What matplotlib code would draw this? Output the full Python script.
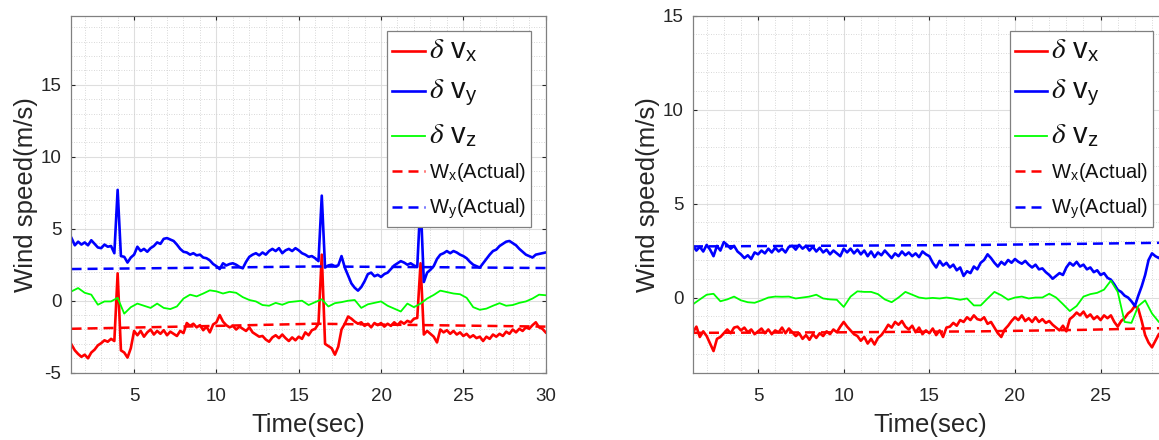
import numpy as np
import matplotlib
matplotlib.use('Agg')
import matplotlib.pyplot as plt
from matplotlib.ticker import MultipleLocator

plt.rcParams['font.family'] = ['Liberation Sans', 'DejaVu Sans']
plt.rcParams['mathtext.fontset'] = 'stix'
plt.rcParams['axes.unicode_minus'] = False

t0 = 1.2
dt = 0.2      # red / blue traces
dt_z = 0.4    # green trace

# ---- left run ----
vx_left = [-3.05, -3.45, -3.7, -3.9, -3.75,
           -4.0, -3.6, -3.4, -3.1, -2.95,
           -2.75, -2.85, -2.65, -2.8, 1.9,
           -3.45, -3.6, -3.95, -3.3, -2.1,
           -2.4, -2.1, -2.5, -2.2, -2.0,
           -2.35, -2.1, -2.3, -2.05, -2.4,
           -2.15, -2.3, -2.45, -2.1, -2.25,
           -1.55, -1.75, -1.6, -1.85, -1.7,
           -2.05, -1.8, -2.2, -1.65, -1.5,
           -1.0, -1.45, -1.7, -1.85, -1.75,
           -2.0, -1.8, -1.95, -2.1, -1.85,
           -2.2, -2.35, -2.5, -2.45, -2.7,
           -2.85, -2.55, -2.4, -2.6, -2.35,
           -2.6, -2.8, -2.55, -2.75, -2.5,
           -2.65, -2.2, -2.4, -2.05, -1.95,
           -1.6, 3.2, -3.0, -3.15, -3.3,
           -3.75, -3.2, -2.0, -1.6, -1.1,
           -1.25, -1.45, -1.6, -1.5, -1.75,
           -1.6, -1.85, -1.55, -1.7, -1.55,
           -1.8, -1.6, -1.75, -1.5, -1.7,
           -1.45, -1.6, -1.4, -1.5, -1.25,
           -1.2, 2.6, -2.35, -2.1, -2.3,
           -2.5, -2.9, -2.0, -2.2, -2.05,
           -2.3, -2.1, -2.35, -2.2, -2.45,
           -2.3, -2.55, -2.4, -2.6, -2.5,
           -2.8, -2.5, -2.65, -2.35, -2.5,
           -2.3, -2.45, -2.15, -2.3, -2.0,
           -2.2, -1.95, -2.1, -1.85, -1.95,
           -1.7, -1.5, -1.85, -1.95, -2.2]
vy_left = [4.35, 3.85, 4.1, 3.9, 4.05,
           3.85, 4.2, 3.95, 3.7, 3.65,
           3.9, 3.75, 3.8, 3.3, 7.7,
           3.1, 3.05, 2.65, 3.0, 3.2,
           3.75, 3.45, 3.6, 3.4, 3.65,
           3.8, 4.05, 3.95, 4.3, 4.35,
           4.25, 4.15, 3.9, 3.6, 3.4,
           3.35, 3.2, 3.3, 3.15, 3.2,
           3.0, 2.95, 2.8, 2.55, 2.4,
           2.2, 2.6, 2.45, 2.55, 2.6,
           2.5, 2.35, 2.25, 2.7, 3.05,
           3.2, 3.3, 3.15, 3.35, 3.2,
           3.45, 3.6, 3.45, 3.65, 3.3,
           3.5, 3.6, 3.45, 3.65, 3.5,
           3.3, 3.2, 3.05, 3.1, 2.95,
           2.75, 7.3, 2.3, 2.45, 2.5,
           2.4, 2.45, 3.1, 2.3, 1.75,
           1.2, 0.9, 0.7, 0.95, 1.35,
           1.85, 1.95, 1.7, 1.8, 1.65,
           1.85, 1.95, 2.2, 2.45, 2.6,
           2.75, 2.65, 2.5, 2.6, 2.45,
           2.35, 7.0, 1.3, 1.95, 2.15,
           2.4, 2.9, 3.2, 3.3, 3.45,
           3.3, 3.45, 3.35, 3.2, 3.1,
           2.95, 2.7, 2.5, 2.4, 2.3,
           2.6, 2.9, 3.2, 3.45, 3.55,
           3.8, 3.95, 4.1, 4.15, 4.0,
           3.85, 3.6, 3.4, 3.2, 3.1,
           3.0, 3.2, 3.25, 3.3, 3.35]
vz_left = [0.65, 0.88, 0.55, 0.42, -0.28,
           -0.05, -0.05, 0.2, -0.9, -0.45,
           -0.2, -0.35, -0.5, -0.2, -0.5,
           -0.58, -0.4, 0.15, 0.42, 0.3,
           0.5, 0.72, 0.65, 0.5, 0.62,
           0.55, 0.25, 0.05, -0.05, -0.3,
           -0.35, -0.15, -0.28, -0.1, -0.05,
           0.0, -0.3, -0.1, 0.1, -0.4,
           -0.17, -0.1, 0.0, 0.05, -0.5,
           -0.25, -0.15, -0.05, -0.35, -0.55,
           -0.75, -0.2, -0.45, -0.2, 0.15,
           0.4, 0.7, 0.6, 0.5, 0.45,
           0.2, -0.45, -0.63, -0.55, -0.35,
           -0.17, -0.35, -0.3, -0.15, -0.05,
           0.15, 0.42, 0.38]
w_left_t = [1.2, 10, 16, 23, 30]
wx_left = [-1.95, -1.75, -1.6, -1.7, -1.8]
wy_left = [2.2, 2.3, 2.38, 2.33, 2.27]

# ---- right run ----
vx_right = [-1.85, -1.55, -2.1, -1.8, -2.05,
            -2.45, -2.85, -2.2, -2.1, -1.9,
            -1.7, -1.9, -1.6, -1.55, -1.75,
            -1.6, -1.85, -1.7, -1.95, -1.8,
            -1.65, -1.9, -1.7, -1.95, -1.75,
            -1.85, -1.6, -1.9, -1.65, -1.85,
            -2.05, -1.9, -2.2, -2.0, -2.25,
            -1.95, -2.15, -1.9, -2.05, -1.8,
            -1.95, -1.7, -1.85, -1.55, -1.3,
            -1.55, -1.75, -1.95, -2.05, -2.3,
            -2.1, -2.45, -2.2, -2.5, -2.15,
            -2.0, -1.75, -1.45, -1.6, -1.3,
            -1.45, -1.25, -1.55, -1.7, -1.5,
            -1.85, -1.6, -1.95, -1.75, -1.9,
            -1.65, -2.0, -1.75, -2.1, -1.6,
            -1.55, -1.35, -1.5, -1.2, -1.3,
            -1.05, -1.2, -0.95, -1.15, -1.2,
            -1.05, -1.4, -1.3, -1.6, -1.9,
            -2.1, -1.7, -1.5, -1.25, -1.05,
            -1.2, -0.95, -1.25, -1.1, -1.3,
            -1.05, -1.3, -1.15, -1.35, -1.25,
            -1.45, -1.6, -1.75, -1.5, -1.8,
            -1.15, -1.0, -0.8, -0.95, -0.75,
            -1.05, -0.9, -1.15, -1.0, -1.2,
            -0.95, -1.1, -0.95, -1.3, -1.55,
            -1.25, -1.1, -0.85, -0.7, -0.45,
            -0.6, -1.25, -2.0, -2.4, -2.65,
            -2.3, -1.95, -1.8, -1.9, -1.95]
vy_right = [2.75, 2.5, 2.7, 2.45, 2.8,
            2.55, 2.2, 2.75, 2.5, 2.95,
            2.8, 2.6, 2.75, 2.45, 2.3,
            2.1, 2.25, 2.05, 2.4, 2.3,
            2.5, 2.35, 2.6, 2.4, 2.65,
            2.45, 2.6, 2.4, 2.7, 2.75,
            2.55, 2.8, 2.6, 2.75, 2.5,
            2.7, 2.45, 2.65, 2.4, 2.55,
            2.3, 2.5, 2.35, 2.2, 2.6,
            2.4, 2.6, 2.35, 2.55, 2.3,
            2.5, 2.2, 2.45, 2.15, 2.4,
            2.25, 2.5, 2.3, 2.1, 2.35,
            2.2, 2.45, 2.25, 2.4, 2.2,
            2.35, 2.15, 2.45, 2.3, 2.2,
            1.85, 1.6, 1.95, 1.7, 1.85,
            1.6, 1.75, 1.45, 1.6, 1.15,
            1.4, 1.3, 1.65, 1.5, 1.85,
            2.0, 2.3, 2.1, 1.85, 1.65,
            1.9, 1.75, 2.0, 1.85, 2.05,
            1.9, 1.8, 1.95, 1.75, 1.6,
            1.75, 1.5, 1.55, 1.35, 1.2,
            1.0, 1.15, 1.3, 1.2, 1.6,
            1.85, 1.7, 1.9, 1.65, 1.75,
            1.5, 1.6, 1.35, 1.45, 1.2,
            1.3, 1.05, 0.95, 0.7, 0.4,
            0.3, 0.1, 0.0, -0.2, -0.45,
            0.1, 0.6, 1.2, 2.0, 2.35,
            2.2, 2.1, 2.2, 2.3, 2.25]
vz_right = [-0.36, -0.1, 0.15, 0.2, -0.2,
            -0.1, 0.05, -0.15, -0.25, -0.28,
            -0.15, 0.0, 0.05, 0.04, 0.05,
            -0.05, 0.0, 0.05, 0.15, -0.05,
            -0.1, -0.12, -0.5, 0.05, 0.33,
            0.3, 0.3, 0.18, -0.1, -0.25,
            0.0, 0.3, 0.15, 0.0, -0.05,
            -0.02, -0.05, 0.0, -0.05, -0.12,
            -0.05, -0.42, -0.42, -0.05, 0.3,
            0.12, -0.12, 0.0, 0.05, -0.05,
            0.0, 0.0, 0.2, 0.0, -0.35,
            -0.72, -0.45, 0.05, 0.18, 0.25,
            0.42, 0.9, 0.3, -1.3, -1.35,
            -0.45, -0.15, -0.85, -1.3, -1.45]
w_right_t = [1.2, 10, 18, 24, 29]
wx_right = [-1.88, -1.85, -1.8, -1.72, -1.62]
wy_right = [2.72, 2.76, 2.8, 2.86, 2.92]

legend_labels = [r'$\delta$ v$_\mathregular{x}$', r'$\delta$ v$_\mathregular{y}$',
                 r'$\delta$ v$_\mathregular{z}$',
                 r'W$_\mathregular{x}$(Actual)', r'W$_\mathregular{y}$(Actual)']


def draw(ax, vx, vy, vz, wt, wx, wy, xlim, ylim, xticks, yticks):
    t = t0 + dt*np.arange(len(vx))
    tz = t0 + dt_z*np.arange(len(vz))
    ax.plot(t, vx, color='#ff0000', lw=1.9)
    ax.plot(t, vy, color='#0000ff', lw=1.9)
    ax.plot(tz, vz, color='#00ff00', lw=1.3)
    ax.plot(wt, wx, color='#ff0000', lw=1.8, dashes=(4, 2.4))
    ax.plot(wt, wy, color='#0000ff', lw=1.8, dashes=(4, 2.4))

    ax.set_xlim(xlim)
    ax.set_ylim(ylim)
    ax.set_xticks(xticks)
    ax.set_yticks(yticks)
    ax.xaxis.set_minor_locator(MultipleLocator(1))
    ax.yaxis.set_minor_locator(MultipleLocator(1))
    ax.grid(which='major', color='#dedede', lw=0.8)
    ax.grid(which='minor', color='#cccccc', lw=0.6, linestyle=(0, (1, 2)))
    ax.set_axisbelow(True)
    ax.tick_params(which='major', direction='in', length=3, top=True, right=True,
                   labelsize=13.5, colors='#262626', pad=7)
    ax.tick_params(axis='x', which='major', pad=11)
    ax.tick_params(which='minor', length=0)
    for s in ax.spines.values():
        s.set_color('#808080')
        s.set_linewidth(0.9)
    ax.set_xlabel('Time(sec)', fontsize=18.5, color='#262626', labelpad=6)
    ax.set_ylabel('Wind speed(m/s)', fontsize=18.5, color='#262626', labelpad=2)

    leg = ax.legend(legend_labels, loc='upper right', bbox_to_anchor=(0.969, 0.958),
                    borderaxespad=0, fontsize=14.5, fancybox=False, framealpha=1,
                    edgecolor='#808080', handlelength=1.6, handletextpad=0.2,
                    borderpad=0.25, labelspacing=0.62)
    leg.get_frame().set_linewidth(0.9)
    for i, txt in enumerate(leg.get_texts()):
        txt.set_color('#111111')
        if i < 3:
            txt.set_fontsize(21)
    leg.set_zorder(10)


fig = plt.figure(figsize=(11.59, 4.4), dpi=100)
ax1 = fig.add_axes([0.0613, 0.1530, 0.4095, 0.8113])
ax2 = fig.add_axes([0.5982, 0.1530, 0.4095, 0.8113])

draw(ax1, vx_left, vy_left, vz_left, w_left_t, wx_left, wy_left,
     (1.17, 30), (-5, 19.8), [5, 10, 15, 20, 25, 30], [-5, 0, 5, 10, 15])
draw(ax2, vx_right, vy_right, vz_right, w_right_t, wx_right, wy_right,
     (1.22, 28.93), (-4, 15), [5, 10, 15, 20, 25], [0, 5, 10, 15])

fig.savefig('out.png', dpi=100)
